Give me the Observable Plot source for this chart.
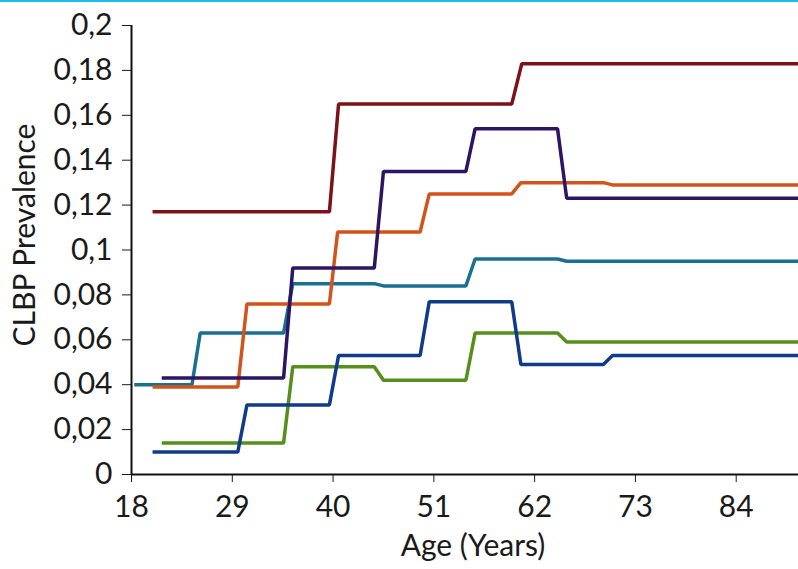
<!DOCTYPE html>
<html>
<head>
<meta charset="utf-8">
<script src="https://cdn.jsdelivr.net/npm/d3@7"></script>
<script src="https://cdn.jsdelivr.net/npm/@observablehq/plot@0.6"></script>
<style>
  html, body { margin: 0; padding: 0; background: #fff; }
  #wrap { position: relative; width: 798px; height: 569px; overflow: hidden; }
  #topline { position: absolute; left: 0; top: 0; width: 798px; height: 2px; background: #1bbdf0; }
</style>
</head>
<body>
<div id="wrap"><div id="topline"></div></div>
<script>
// ---- data ----
const xTicks = [18, 29, 40, 51, 62, 73, 84];
const yTicks = [0, 0.02, 0.04, 0.06, 0.08, 0.1, 0.12, 0.14, 0.16, 0.18, 0.2];
const xLabel = "Age (Years)";
const yLabel = "CLBP Prevalence";

const seriesNames = ["S1", "S2", "S3", "S4", "S5", "S6"];
const seriesColors = ["#1a7090", "#d2541a", "#2c1562", "#55901a", "#123a8a", "#7a1218"];

const s1Ages = [18.3, 24.6, 25.5, 34.6, 35.6, 44.5, 45.5, 54.5, 55.5, 64.5, 65.5, 90.8];
const s1Vals = [0.040, 0.040, 0.063, 0.063, 0.085, 0.085, 0.084, 0.084, 0.096, 0.096, 0.095, 0.095];

const s2Ages = [20.3, 29.6, 30.6, 39.6, 40.5, 49.5, 50.5, 59.5, 60.5, 69.5, 70.5, 90.8];
const s2Vals = [0.039, 0.039, 0.076, 0.076, 0.108, 0.108, 0.125, 0.125, 0.130, 0.130, 0.129, 0.129];

const s3Ages = [21.3, 34.6, 35.6, 44.5, 45.5, 54.5, 55.5, 64.5, 65.5, 90.8];
const s3Vals = [0.043, 0.043, 0.092, 0.092, 0.135, 0.135, 0.154, 0.154, 0.123, 0.123];

const s4Ages = [21.3, 34.6, 35.6, 44.5, 45.5, 54.5, 55.5, 64.5, 65.5, 90.8];
const s4Vals = [0.014, 0.014, 0.048, 0.048, 0.042, 0.042, 0.063, 0.063, 0.059, 0.059];

const s5Ages = [20.3, 29.6, 30.6, 39.6, 40.6, 49.5, 50.5, 59.5, 60.5, 69.5, 70.5, 90.8];
const s5Vals = [0.010, 0.010, 0.031, 0.031, 0.053, 0.053, 0.077, 0.077, 0.049, 0.049, 0.053, 0.053];

const s6Ages = [20.3, 39.6, 40.6, 59.5, 60.6, 90.8];
const s6Vals = [0.117, 0.117, 0.165, 0.165, 0.183, 0.183];

const seriesAges = [s1Ages, s2Ages, s3Ages, s4Ages, s5Ages, s6Ages];
const seriesVals = [s1Vals, s2Vals, s3Vals, s4Vals, s5Vals, s6Vals];

// build table
const rows = [];
seriesNames.forEach((name, i) => {
  seriesAges[i].forEach((a, j) => rows.push({series: name, age: a, value: seriesVals[i][j]}));
});

const fmt = d => String(d).replace(".", ",");
const font = "Lato, 'Open Sans', sans-serif";

const chart = Plot.plot({
  width: 798,
  height: 569,
  marginLeft: 131,
  marginRight: 0,
  marginTop: 25,
  marginBottom: 95,
  style: {fontFamily: font, fontSize: "30px", color: "#1a1a1a", background: "white", overflow: "visible"},
  x: {domain: [18, 90.8], label: null},
  y: {domain: [0, 0.2], label: null},
  color: {domain: seriesNames, range: seriesColors},
  marks: [
    Plot.axisX({ticks: xTicks, tickSize: 8, tickPadding: 13, fontSize: 30, label: null, tickFormat: d => String(d)}),
    Plot.axisY({ticks: yTicks, tickSize: 9, tickPadding: 10, fontSize: 30, label: null, tickFormat: fmt}),
    Plot.text([xLabel], {text: d => d, frameAnchor: "bottom", textAnchor: "middle", lineAnchor: "top", dy: 60, dx: 8, fontSize: 30, fill: "#1a1a1a"}),
    Plot.text([yLabel], {text: d => d, frameAnchor: "left", textAnchor: "middle", rotate: -90, lineAnchor: "middle", dx: -106, dy: -15, fontSize: 30, fill: "#1a1a1a"}),
    Plot.ruleX([18], {stroke: "#111", strokeWidth: 2}),
    Plot.ruleY([0], {stroke: "#111", strokeWidth: 2}),
    Plot.line(rows, {x: "age", y: "value", z: "series", stroke: "series", strokeWidth: 3.5, strokeLinejoin: "miter", strokeLinecap: "butt"})
  ]
});
document.getElementById("wrap").prepend(chart);
</script>
</body>
</html>
